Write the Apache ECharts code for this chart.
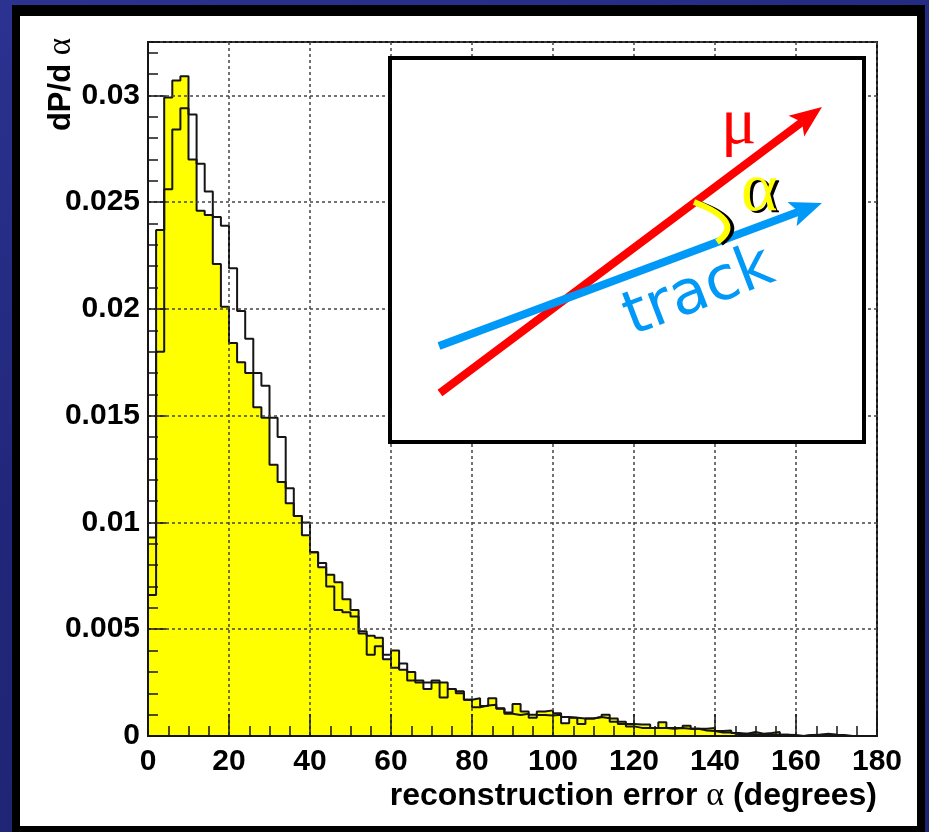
<!DOCTYPE html>
<html>
<head>
<meta charset="utf-8">
<script src="https://cdn.jsdelivr.net/npm/echarts@6/dist/echarts.min.js"></script>
<style>
  html, body { margin: 0; padding: 0; width: 929px; height: 832px; overflow: hidden;
    background: linear-gradient(160deg, #2b3290 0%, #20277a 45%, #1d2470 100%); }
  #frame { position: absolute; left: 12px; top: 5px; width: 913px; height: 827px; background: #000; }
  #panel { position: absolute; left: 20px; top: 16px; width: 897px; height: 810px; background: #fff; }
  #chart { position: absolute; left: 0; top: 0; width: 929px; height: 832px; }
</style>
</head>
<body>
<div id="frame"></div>
<div id="panel"></div>
<div id="chart"></div>
<script>
// Histogram binning (degrees)
const BIN_WIDTH = 2;
const X_MAX = 180;

// dP/dα per 2° bin, filled (yellow) distribution
const filledVals = [
  0.0093, 0.0237, 0.0299, 0.0307, 0.0309, 0.0270, 0.0246, 0.0244, 0.0221, 0.0201,
  0.0184, 0.0175, 0.0170, 0.0154, 0.0149, 0.0127, 0.0119, 0.0109, 0.0103, 0.0094,
  0.0086, 0.0079, 0.00755, 0.0072, 0.0064, 0.0059, 0.0048, 0.0047, 0.0046, 0.0036,
  0.0040, 0.0031, 0.0030, 0.0025, 0.0022, 0.0025, 0.0025, 0.0022, 0.0021, 0.0017,
  0.00177, 0.0014, 0.00177, 0.0013, 0.0011, 0.0015, 0.00115, 0.0010, 0.00115, 0.0012,
  0.00107, 0.0006, 0.00086, 0.00082, 0.00082, 0.00089, 0.0010, 0.00082, 0.00067, 0.00056,
  0.00054, 0.00054, 0.00038, 0.00064, 0.00038, 0.00038, 0.00048, 0.00034, 0.00034, 0.00038,
  0.00023, 0.00026, 0.00014, 0.00011, 0.00019, 0.00011, 0.00014, 0.00019, 0.00006, 0.00005,
  0, 0.00005, 0.00006, 0.0001, 0.00006, 0.00005, 0, 0, 0, 0
];

// dP/dα per 2° bin, outline-only distribution
const outlineVals = [
  0.0066, 0.0180, 0.0256, 0.0284, 0.0294, 0.0291, 0.0268, 0.0255, 0.0243, 0.0239,
  0.0219, 0.0199, 0.0186, 0.0170, 0.0164, 0.0149, 0.0140, 0.0116, 0.0103, 0.0100,
  0.0086, 0.0081, 0.0070, 0.0059, 0.0058, 0.0056, 0.0049, 0.0038, 0.0042, 0.0038,
  0.0032, 0.0034, 0.0026, 0.0026, 0.0025, 0.0026, 0.0018, 0.0022, 0.0020, 0.0017,
  0.00135, 0.00143, 0.00146, 0.00128, 0.00104, 0.00098, 0.00104, 0.00086, 0.00098, 0.00096,
  0.0010, 0.00089, 0.00086, 0.00056, 0.00082, 0.00089, 0.00083, 0.00067, 0.00056, 0.00045,
  0.00038, 0.00038, 0.00038, 0.00038, 0.00034, 0.00038, 0.00034, 0.00034, 0.00026, 0.00023,
  0.00016, 0.00016, 0.00008, 0.00011, 0.00008, 0.00006, 0.00006, 0.00006, 0.00006, 0,
  0, 0.00005, 0.00006, 0.00006, 0.00006, 0, 0, 0, 0, 0
];

// Axis tick labels
const xTickLabels = ['0', '20', '40', '60', '80', '100', '120', '140', '160', '180'];
const yTickLabels = ['0', '0.005', '0.01', '0.015', '0.02', '0.025', '0.03'];

// Turn per-bin values into a closed step outline starting and ending on the baseline
function stepPoints(vals) {
  const pts = [[0, 0]];
  vals.forEach((v, i) => pts.push([i * BIN_WIDTH, v]));
  pts.push([vals.length * BIN_WIDTH, vals[vals.length - 1]]);
  pts.push([vals.length * BIN_WIDTH, 0]);
  return pts;
}

const LABEL_FONT = { fontFamily: 'Liberation Sans', fontWeight: 'bold', fontSize: 30, color: '#000' };
const INK = '#151515';

// Arrow built from a shaft and a notched head
function arrow(x1, y1, x2, y2, color, width, headLen, headHalf) {
  const dx = x2 - x1, dy = y2 - y1, L = Math.hypot(dx, dy);
  const ux = dx / L, uy = dy / L, px = -uy, py = ux;
  const bx = x2 - ux * headLen, by = y2 - uy * headLen;
  const nx = x2 - ux * headLen * 0.78, ny = y2 - uy * headLen * 0.78;
  return [
    { type: 'line', z: 101, shape: { x1, y1, x2: nx, y2: ny }, style: { stroke: color, lineWidth: width } },
    { type: 'polygon', z: 101, shape: { points: [[x2, y2], [bx + px * headHalf, by + py * headHalf], [nx, ny], [bx - px * headHalf, by - py * headHalf]] }, style: { fill: color } }
  ];
}

const chart = echarts.init(document.getElementById('chart'), null, { renderer: 'canvas' });

const insetGraphics = [
  { type: 'rect', z: 100, shape: { x: 390, y: 58, width: 474, height: 384 }, style: { fill: '#fff', stroke: '#000', lineWidth: 4 } },
  ...arrow(440, 393, 822, 107, '#ff0000', 8, 32, 13),
  ...arrow(439, 346, 822, 203, '#0099f7', 8, 32, 13),
  { type: 'text', z: 102, x: 721, y: 126, style: { text: 'μ', font: '66px "Liberation Serif"', fill: '#ff0000', align: 'left', verticalAlign: 'middle' } },
  { type: 'text', z: 102, x: 744, y: 194, style: { text: 'α', font: '70px "Liberation Serif"', fill: '#000', align: 'left', verticalAlign: 'middle' } },
  { type: 'text', z: 103, x: 741, y: 192, style: { text: 'α', font: '70px "Liberation Serif"', fill: '#ffff00', align: 'left', verticalAlign: 'middle' } },
  { type: 'bezierCurve', z: 102, shape: { x1: 697, y1: 203, cpx1: 750, cpy1: 222, x2: 721, y2: 243 }, style: { stroke: '#000', lineWidth: 6, fill: null } },
  { type: 'bezierCurve', z: 103, shape: { x1: 694, y1: 202, cpx1: 746, cpy1: 222, x2: 717, y2: 242 }, style: { stroke: '#ffff00', lineWidth: 6, fill: null } },
  { type: 'text', z: 102, x: 699, y: 293, rotation: 21 * Math.PI / 180, style: { text: 'track', font: '61px "DejaVu Sans"', fill: '#0099f7', align: 'center', verticalAlign: 'middle' } }
];

const titleGraphics = [
  { type: 'text', z: 50, x: 877, y: 796, style: {
      text: '{a|reconstruction error }{b|α}{a| (degrees)}', align: 'right', verticalAlign: 'middle',
      rich: { a: { fontFamily: 'Liberation Sans', fontWeight: 'bold', fontSize: 32, fill: '#000' },
              b: { fontFamily: 'Liberation Serif', fontSize: 34, fill: '#000' } } } },
  { type: 'text', z: 50, x: 61, y: 38, rotation: Math.PI / 2, style: {
      text: '{a|dP/d }{b|α}', align: 'right', verticalAlign: 'middle',
      rich: { a: { fontFamily: 'Liberation Sans', fontWeight: 'bold', fontSize: 31, fill: '#000' },
              b: { fontFamily: 'Liberation Serif', fontSize: 33, fill: '#000' } } } }
];

const option = {
  animation: false,
  backgroundColor: 'transparent',
  grid: { left: 148, right: 52, top: 42, bottom: 96, show: true, borderColor: INK, borderWidth: 2, backgroundColor: 'transparent', containLabel: false },
  xAxis: {
    type: 'value', min: 0, max: X_MAX, interval: 20, z: 10,
    axisLine: { show: true, lineStyle: { color: INK, width: 2 } },
    axisTick: { show: true, inside: true, length: 22, lineStyle: { color: INK, width: 1.5 } },
    minorTick: { show: true, splitNumber: 4, length: 10, lineStyle: { color: INK, width: 1.5 } },
    splitLine: { show: true, lineStyle: { color: '#444', width: 1.5, type: [3, 3] } },
    axisLabel: Object.assign({ margin: 11, formatter: v => xTickLabels[Math.round(v / 20)] }, LABEL_FONT)
  },
  yAxis: [
    {
      type: 'value', min: 0, max: 0.0325, interval: 0.005, z: 10,
      axisLine: { show: true, lineStyle: { color: INK, width: 2 } },
      axisTick: { show: true, inside: true, length: 18, lineStyle: { color: INK, width: 1.5 } },
      splitLine: { show: true, lineStyle: { color: '#444', width: 1.5, type: [3, 3] } },
      axisLabel: Object.assign({ margin: 8, showMaxLabel: false,
        formatter: v => { const i = Math.round(v / 0.005); return Math.abs(v - i * 0.005) < 1e-9 ? yTickLabels[i] : ''; } }, LABEL_FONT)
    },
    {
      // finer ticks every 0.001
      type: 'value', min: 0, max: 0.0325, interval: 0.001, position: 'left', z: 10,
      axisLine: { show: false },
      axisTick: { show: true, inside: true, length: 10, lineStyle: { color: INK, width: 1.5 } },
      splitLine: { show: false },
      axisLabel: { show: false }
    }
  ],
  graphic: { elements: [...titleGraphics, ...insetGraphics] },
  series: [
    {
      name: 'filled', type: 'line', step: 'end', symbol: 'none', z: 2,
      data: stepPoints(filledVals),
      lineStyle: { color: INK, width: 2 },
      itemStyle: { color: INK },
      areaStyle: { color: '#ffff00', opacity: 1, origin: 'start' }
    },
    {
      name: 'outline', type: 'line', step: 'end', symbol: 'none', z: 3,
      data: stepPoints(outlineVals),
      lineStyle: { color: INK, width: 2 },
      itemStyle: { color: INK }
    }
  ]
};

chart.setOption(option);
</script>
</body>
</html>
